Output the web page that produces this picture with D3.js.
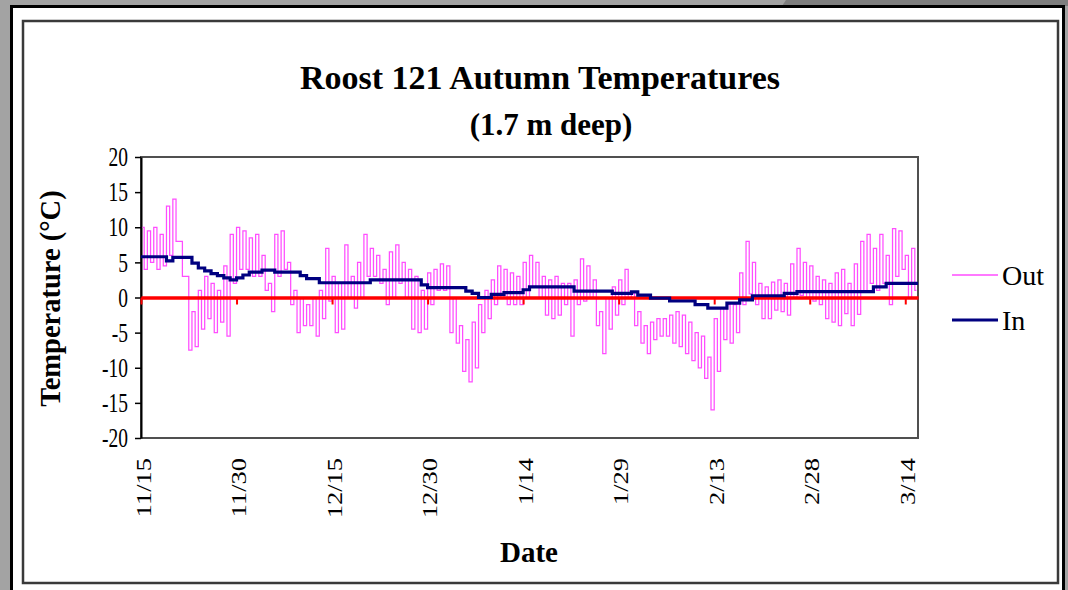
<!DOCTYPE html>
<html>
<head>
<meta charset="utf-8">
<script src="https://cdn.jsdelivr.net/npm/d3@7"></script>
<style>
  html, body { margin: 0; padding: 0; background: #a3a3a3; }
  svg { display: block; }
  text { font-family: "Liberation Serif", "Times New Roman", serif; fill: #000; }
</style>
</head>
<body>
<svg id="chart" width="1068" height="590" viewBox="0 0 1068 590"></svg>
<script>
// daily outside range (max / min) and inside temperature, 11/15 .. 3/16
const outHigh = [
    10, 9.5, 10, 9, 13, 14, 8, 3, -2, 1,
    3, 2, 1, 4.5, 9, 10, 9.5, 8.5, 9, 6,
    2, 9, 9.5, 5, 1, 0, -1, 0, 1, 7,
    3, 2, 7.5, 3, 5, 9, 7, 6, 4, 6.5,
    7.5, 5, 4, 3, 1, 3.5, 4, 4.8, 4.5, 0,
    -4, -6, -3.5, -1, 1, 2.5, 4.5, 4, 3.5, 3,
    5, 6, 5, 3, 2.5, 3, 2, 2, 2.5, 5.5,
    4.5, 2.5, -2, 0, 1.5, 2.5, 4, 0.5, -2, -4,
    -3.5, -3, -3, -2.5, -2, -2.5, -3.5, -5, -5.5, -8.5,
    -3, -1.5, -1, -1, 3.5, 8, 5, 2, 1.5, 2.2,
    2.5, 2, 4.8, 7, 5, 4.5, 3, 2.5, 2, 3.5,
    4, 2, 4.8, 8, 9, 7, 9, 6, 9.8, 9.5,
    6, 7
];
const outLow = [
    4, 5, 4, 4.5, 6, 8, 3, -7.5, -7, -4.5,
    -3, -5, -3.5, -5.5, 2, 4, 4, 3, 3, 1,
    -2, 3, 4, -1, -5, -4, -4, -5.5, -3, -0.5,
    -5, -4.5, 0, -1.5, 0, 3, 3, 2, -1, 0,
    2, 0, -4.5, -5, -4.5, -1, 1, 1, -5, -6.5,
    -10.5, -12, -10, -5, -3, -1, 0, -1, -1, -1,
    0, 1.5, 0, -2.5, -3, -2.5, -1, -5.5, -1, -0.5,
    0, -4, -8, -4.5, -2.5, -1, 0, -4, -6.5, -8,
    -6, -5.5, -5.5, -6.5, -7, -8, -9, -10, -11.5, -16,
    -10.5, -6, -6.5, -5, -1, 0.5, -1, -3, -3, -1.8,
    -2, -2.5, 0, 0.3, 0, -0.5, -1, -3, -3.5, -4,
    -2.3, -4, -2.4, 0.8, 2, 1, 2, -1, 3, 4,
    0, 1
];
const inTemp = [
    5.8, 5.8, 5.8, 5.8, 5.2, 5.7, 5.7, 5.7, 4.9, 4.2,
    3.8, 3.4, 3.1, 2.8, 2.5, 2.8, 3.2, 3.6, 3.6, 3.9,
    3.9, 3.6, 3.6, 3.6, 3.6, 3.1, 2.7, 2.7, 2.1, 2.1,
    2.1, 2.1, 2.1, 2.1, 2.1, 2.1, 2.5, 2.5, 2.5, 2.5,
    2.5, 2.5, 2.5, 2.5, 1.8, 1.4, 1.4, 1.4, 1.4, 1.4,
    1.4, 0.9, 0.6, 0, 0, 0.45, 0.45, 0.7, 0.7, 0.7,
    1.1, 1.5, 1.5, 1.5, 1.5, 1.5, 1.5, 1.5, 0.9, 0.9,
    0.9, 0.9, 0.9, 0.9, 0.6, 0.6, 0.6, 0.8, 0.35, 0.35,
    -0.1, -0.1, -0.1, -0.5, -0.5, -0.5, -0.5, -1.0, -1.0, -1.5,
    -1.5, -1.5, -0.8, -0.8, -0.35, -0.35, 0.25, 0.25, 0.25, 0.25,
    0.25, 0.6, 0.6, 0.85, 0.85, 0.85, 0.85, 0.85, 0.85, 0.85,
    0.85, 0.85, 0.85, 0.85, 0.85, 1.5, 1.5, 2.0, 2.0, 2.0,
    2.0, 2.0
];
const tickDays = [0, 15, 30, 45, 60, 75, 90, 105, 120];
const tickLabels = ["11/15", "11/30", "12/15", "12/30", "1/14", "1/29", "2/13", "2/28", "3/14"];
const yTicks = [-20, -15, -10, -5, 0, 5, 10, 15, 20];

(function () {
    const svg = d3.select("#chart");

    // window frame around the chart
    svg.append("rect").attr("width", 1068).attr("height", 590).attr("fill", "#a3a3a3");
    svg.append("path").attr("d", "M786,0 L1068,0 L1068,6 L782,6 Z").attr("fill", "#7e7e7e");
    svg.append("rect").attr("x", 10).attr("y", 5).attr("width", 1055).attr("height", 590).attr("fill", "#000");
    svg.append("rect").attr("x", 13).attr("y", 8).attr("width", 1049).attr("height", 590).attr("fill", "#fff");
    svg.append("rect").attr("x", 23).attr("y", 21).attr("width", 1035).attr("height", 562)
        .attr("fill", "#fff").attr("stroke", "#3a3a3a").attr("stroke-width", 2.5);

    const margin = {top: 157, left: 141};
    const width = 777, height = 281;

    const x = d3.scaleLinear().domain([0, outHigh.length]).range([0, width]);
    const y = d3.scaleLinear().domain([-20, 20]).range([height, 0]);

    const plot = svg.append("g").attr("transform", `translate(${margin.left},${margin.top})`);

    plot.append("rect").attr("width", width).attr("height", height)
        .attr("fill", "#fff").attr("stroke", "#505050").attr("stroke-width", 2);

    const yAxis = plot.append("g")
        .call(d3.axisLeft(y).tickValues(yTicks).tickSize(6).tickSizeOuter(0).tickFormat(""));
    yAxis.select(".domain").attr("stroke", "#000").attr("stroke-width", 2);
    yAxis.selectAll(".tick line").attr("stroke", "#000").attr("stroke-width", 1.5);

    // tick numbers are drawn tall and narrow in the original
    plot.selectAll(".y-label")
        .data(yTicks)
        .enter()
        .append("text")
        .attr("class", "y-label")
        .attr("transform", d => `translate(-13,${y(d)}) scale(1,1.35)`)
        .attr("text-anchor", "end")
        .attr("dy", "0.35em")
        .style("font-size", "19.5px")
        .text(d => String(d));

    // outside readings: each day swings between its max and min
    const outPoints = [];
    outHigh.forEach((hi, i) => {
        outPoints.push([i + 0.25, hi]);
        outPoints.push([i + 0.75, outLow[i]]);
    });
    const outLine = d3.line().x(d => x(d[0])).y(d => y(d[1])).curve(d3.curveStep);
    plot.append("path")
        .datum(outPoints)
        .attr("fill", "none")
        .attr("stroke", "#ff4dff")
        .attr("stroke-width", 1.25)
        .attr("d", outLine);

    // zero line doubles as the category axis
    const xAxis = plot.append("g")
        .attr("transform", `translate(0,${y(0)})`)
        .call(d3.axisBottom(x).tickValues(tickDays).tickSize(7).tickSizeOuter(0).tickFormat(""));
    xAxis.select(".domain").attr("stroke", "#ff0000").attr("stroke-width", 3.5);
    xAxis.selectAll(".tick line").attr("stroke", "#ff0000").attr("stroke-width", 2);

    const inPoints = inTemp.map((v, i) => [i, v]);
    inPoints.push([inTemp.length, inTemp[inTemp.length - 1]]);
    const inLine = d3.line().x(d => x(d[0])).y(d => y(d[1])).curve(d3.curveStepAfter);
    plot.append("path")
        .datum(inPoints)
        .attr("fill", "none")
        .attr("stroke", "#000080")
        .attr("stroke-width", 3.2)
        .attr("d", inLine);

    plot.selectAll(".date-label")
        .data(tickDays)
        .enter()
        .append("text")
        .attr("class", "date-label")
        .attr("transform", d => `translate(${x(d) + 2},${height + 20}) rotate(-90) scale(1.2,1)`)
        .attr("text-anchor", "end")
        .attr("dy", "0.35em")
        .style("font-size", "22px")
        .text((d, i) => tickLabels[i]);

    // titles
    svg.append("text").attr("x", 540).attr("y", 89).attr("text-anchor", "middle")
        .style("font-size", "34px").style("font-weight", "bold")
        .text("Roost 121 Autumn Temperatures");
    svg.append("text").attr("x", 551).attr("y", 135).attr("text-anchor", "middle")
        .style("font-size", "31px").style("font-weight", "bold")
        .text("(1.7 m deep)");
    svg.append("text").attr("x", 529).attr("y", 562).attr("text-anchor", "middle")
        .style("font-size", "29px").style("font-weight", "bold")
        .text("Date");
    svg.append("text")
        .attr("transform", `translate(60,${margin.top + height / 2 + 1}) rotate(-90)`)
        .attr("text-anchor", "middle")
        .style("font-size", "28.5px").style("font-weight", "bold")
        .text("Temperature (°C)");

    // legend
    const legend = [
        {name: "Out", color: "#ff4dff", w: 1.6, y: 275},
        {name: "In", color: "#000080", w: 3.2, y: 320}
    ];
    const lg = svg.selectAll(".legend").data(legend).enter().append("g").attr("class", "legend");
    lg.append("line")
        .attr("x1", 952).attr("x2", 998)
        .attr("y1", d => d.y).attr("y2", d => d.y)
        .attr("stroke", d => d.color).attr("stroke-width", d => d.w);
    lg.append("text")
        .attr("x", 1002).attr("y", d => d.y).attr("dy", "0.35em")
        .style("font-size", "28px")
        .text(d => d.name);
})();
</script>
</body>
</html>
